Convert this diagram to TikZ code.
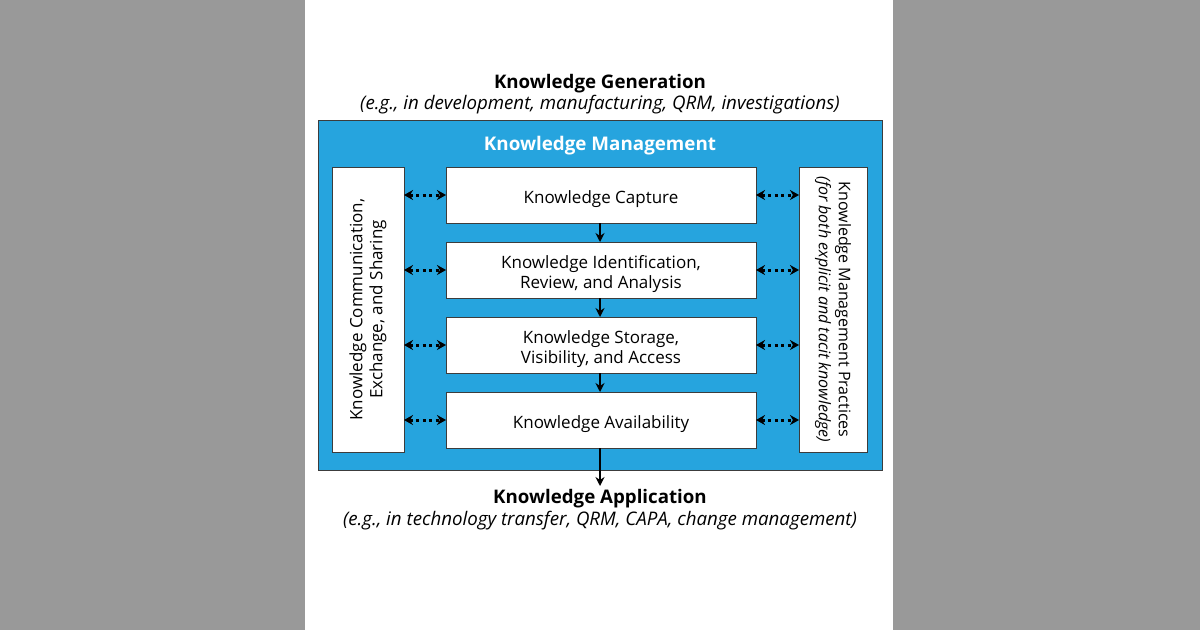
\documentclass[tikz,border=0pt]{standalone}
\usepackage{fontspec}
\setmainfont{Open Sans}
\usetikzlibrary{arrows.meta}
\definecolor{kmblue}{RGB}{38,164,222}
\definecolor{bggray}{RGB}{153,153,153}
\definecolor{edgegray}{RGB}{60,60,60}
\begin{document}
\begin{tikzpicture}[x=1pt,y=-1pt,
  wbox/.style={draw=edgegray,line width=1pt,fill=white,inner sep=0pt,outer sep=0pt},
  flow/.style={-{Stealth[length=9pt,width=9pt]},line width=2pt,black},
  dots/.style={{Stealth[length=9pt,width=10pt]}-{Stealth[length=9pt,width=10pt]},line width=3pt,black,dash pattern=on 3pt off 3.5pt},
  boxtext/.style={font=\fontsize{17}{20}\selectfont,align=center,text depth=0pt,yshift=-2pt}]
\useasboundingbox (0,0) rectangle (1200,630);
\fill[bggray] (0,0) rectangle (1200,630);
\fill[white] (305,0) rectangle (893,630);
% blue frame
\draw[edgegray,line width=1pt,fill=kmblue] (318,120) rectangle (882,470);
\node[font=\bfseries\fontsize{18.8}{22}\selectfont,text=white] (km) at (600,146) {Knowledge Management};
% headings
\node[font=\bfseries\fontsize{18.7}{22}\selectfont] (gen) at (600,84) {Knowledge Generation};
\node[font=\itshape\fontsize{18.7}{22}\selectfont] (geni) at (600,105) {(e.g., in development, manufacturing, QRM, investigations)};
\node[font=\bfseries\fontsize{18.7}{22}\selectfont] (app) at (600,499) {Knowledge Application};
\node[font=\itshape\fontsize{18.7}{22}\selectfont] (appi) at (600,521) {(e.g., in technology transfer, QRM, CAPA, change management)};
% side boxes
\node[wbox,minimum width=72pt,minimum height=285pt] (left) at (368,309.5) {};
\node[font=\fontsize{17}{20}\selectfont,align=center,rotate=90] at (left.center) {Knowledge Communication,\\Exchange, and Sharing};
\node[wbox,minimum width=68pt,minimum height=285pt] (right) at (833,309.5) {};
\node[font=\fontsize{16}{20}\selectfont,align=center,rotate=-90] at (right.center) {Knowledge Management Practices\\\itshape(for both explicit and tacit knowledge)};
% center boxes
\node[wbox,minimum width=310pt,minimum height=56pt] (c1) at (601,195) {};
\node[wbox,minimum width=310pt,minimum height=56pt] (c2) at (601,270) {};
\node[wbox,minimum width=310pt,minimum height=56pt] (c3) at (601,345) {};
\node[wbox,minimum width=310pt,minimum height=56pt] (c4) at (601,420) {};
\node[boxtext] at (c1.center) {Knowledge Capture};
\node[boxtext] at (c2.center) {Knowledge Identification,\\Review, and Analysis};
\node[boxtext] at (c3.center) {Knowledge Storage,\\Visibility, and Access};
\node[boxtext] at (c4.center) {Knowledge Availability};
\coordinate (endarr) at (600,486);
% vertical flow
\draw[flow] (c1.south -| 600,0) -- (c2.north -| 600,0);
\draw[flow] (c2.south -| 600,0) -- (c3.north -| 600,0);
\draw[flow] (c3.south -| 600,0) -- (c4.north -| 600,0);
\draw[flow] (c4.south -| 600,0) -- (endarr);
% dotted connectors
\foreach \c in {c1,c2,c3,c4}{
  \draw[dots] (left.east |- \c.west) -- (\c.west);
  \draw[dots] (\c.east) -- (right.west |- \c.east);
}
\end{tikzpicture}
\end{document}
